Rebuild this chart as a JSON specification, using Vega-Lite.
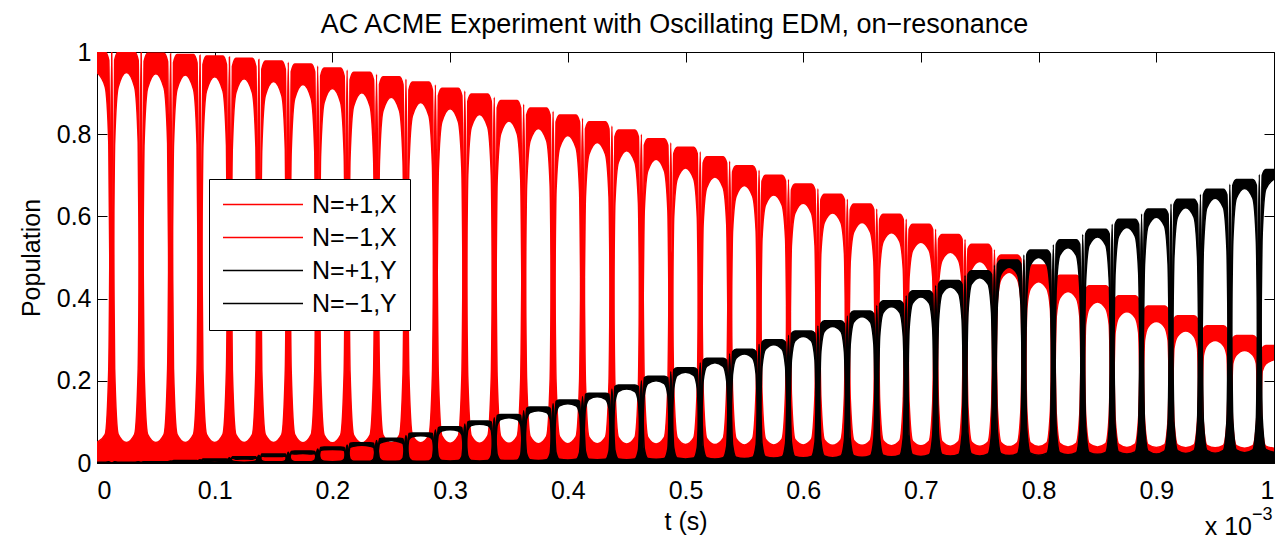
{
"$schema": "https://vega.github.io/schema/vega-lite/v6.json",
"width": 1177, "height": 411,
"autosize": {"type": "none"},
"padding": {"left": 97, "top": 52, "right": 3, "bottom": 78},
"background": "white",
"title": {"text": "AC ACME Experiment with Oscillating EDM, on−resonance", "font": "Liberation Sans", "fontSize": 27, "fontWeight": "normal", "color": "black", "anchor": "middle", "dx": -11, "dy": 39, "offset": 19, "baseline": "alphabetic"},
"data": {"values": [
{"t":0,"a":1,"a0":0.95,"b":0.05,"c":0,"c0":0,"d":0.002},
{"t":0.007,"a":1,"a0":0.915,"b":0.07,"c":0,"c0":0,"d":0.002},
{"t":0.01,"a":0.98,"a0":0.78,"b":0.23,"c":0,"c0":0,"d":0.003},
{"t":0.0125,"a":0,"a0":0,"b":1,"c":0,"c0":0,"d":0},
{"t":0.015,"a":0.98,"a0":0.78,"b":0.23,"c":0,"c0":0,"d":0.003},
{"t":0.018,"a":1,"a0":0.915,"b":0.07,"c":0,"c0":0,"d":0.002},
{"t":0.025,"a":1,"a0":0.95,"b":0.05,"c":0,"c0":0,"d":0.002},
{"t":0.032,"a":1,"a0":0.915,"b":0.07,"c":0,"c0":0,"d":0.002},
{"t":0.035,"a":0.98,"a0":0.78,"b":0.23,"c":0,"c0":0,"d":0.003},
{"t":0.0375,"a":0,"a0":0,"b":0.999,"c":0,"c0":0,"d":0.002},
{"t":0.04,"a":0.977,"a0":0.778,"b":0.229,"c":0.003,"c0":0.002,"d":0.003},
{"t":0.043,"a":0.997,"a0":0.912,"b":0.07,"c":0.003,"c0":0,"d":0.002},
{"t":0.05,"a":0.997,"a0":0.947,"b":0.05,"c":0.003,"c0":0,"d":0.002},
{"t":0.057,"a":0.997,"a0":0.912,"b":0.07,"c":0.003,"c0":0,"d":0.002},
{"t":0.06,"a":0.977,"a0":0.778,"b":0.229,"c":0.003,"c0":0.002,"d":0.003},
{"t":0.0625,"a":0,"a0":0,"b":0.996,"c":0,"c0":0,"d":0.005},
{"t":0.065,"a":0.974,"a0":0.775,"b":0.229,"c":0.006,"c0":0.005,"d":0.004},
{"t":0.068,"a":0.994,"a0":0.909,"b":0.07,"c":0.006,"c0":0.001,"d":0.002},
{"t":0.075,"a":0.994,"a0":0.944,"b":0.05,"c":0.006,"c0":0.001,"d":0.002},
{"t":0.082,"a":0.994,"a0":0.909,"b":0.07,"c":0.006,"c0":0.001,"d":0.002},
{"t":0.085,"a":0.974,"a0":0.775,"b":0.229,"c":0.006,"c0":0.005,"d":0.004},
{"t":0.0875,"a":0,"a0":0,"b":0.992,"c":0,"c0":0,"d":0.008},
{"t":0.09,"a":0.97,"a0":0.772,"b":0.228,"c":0.01,"c0":0.008,"d":0.005},
{"t":0.093,"a":0.99,"a0":0.905,"b":0.07,"c":0.01,"c0":0.004,"d":0.002},
{"t":0.1,"a":0.99,"a0":0.94,"b":0.05,"c":0.01,"c0":0.005,"d":0.002},
{"t":0.107,"a":0.99,"a0":0.905,"b":0.07,"c":0.01,"c0":0.004,"d":0.002},
{"t":0.11,"a":0.97,"a0":0.772,"b":0.228,"c":0.01,"c0":0.008,"d":0.005},
{"t":0.1125,"a":0,"a0":0,"b":0.988,"c":0,"c0":0,"d":0.013},
{"t":0.115,"a":0.965,"a0":0.768,"b":0.227,"c":0.015,"c0":0.012,"d":0.005},
{"t":0.118,"a":0.985,"a0":0.901,"b":0.069,"c":0.015,"c0":0.009,"d":0.003},
{"t":0.125,"a":0.985,"a0":0.935,"b":0.05,"c":0.015,"c0":0.01,"d":0.002},
{"t":0.132,"a":0.985,"a0":0.901,"b":0.069,"c":0.015,"c0":0.009,"d":0.003},
{"t":0.135,"a":0.965,"a0":0.768,"b":0.227,"c":0.015,"c0":0.012,"d":0.005},
{"t":0.1375,"a":0,"a0":0,"b":0.982,"c":0,"c0":0,"d":0.019},
{"t":0.14,"a":0.958,"a0":0.763,"b":0.226,"c":0.022,"c0":0.017,"d":0.006},
{"t":0.143,"a":0.978,"a0":0.894,"b":0.069,"c":0.022,"c0":0.016,"d":0.003},
{"t":0.15,"a":0.978,"a0":0.928,"b":0.05,"c":0.022,"c0":0.016,"d":0.003},
{"t":0.157,"a":0.978,"a0":0.894,"b":0.069,"c":0.022,"c0":0.016,"d":0.003},
{"t":0.16,"a":0.958,"a0":0.763,"b":0.226,"c":0.022,"c0":0.017,"d":0.006},
{"t":0.1625,"a":0,"a0":0,"b":0.975,"c":0,"c0":0,"d":0.026},
{"t":0.165,"a":0.952,"a0":0.757,"b":0.224,"c":0.028,"c0":0.023,"d":0.007},
{"t":0.168,"a":0.971,"a0":0.887,"b":0.069,"c":0.029,"c0":0.022,"d":0.003},
{"t":0.175,"a":0.971,"a0":0.921,"b":0.049,"c":0.029,"c0":0.023,"d":0.003},
{"t":0.182,"a":0.971,"a0":0.887,"b":0.069,"c":0.029,"c0":0.022,"d":0.003},
{"t":0.185,"a":0.952,"a0":0.757,"b":0.224,"c":0.028,"c0":0.023,"d":0.007},
{"t":0.1875,"a":0,"a0":0,"b":0.966,"c":0,"c0":0,"d":0.034},
{"t":0.19,"a":0.942,"a0":0.75,"b":0.222,"c":0.038,"c0":0.03,"d":0.009},
{"t":0.193,"a":0.961,"a0":0.877,"b":0.068,"c":0.039,"c0":0.032,"d":0.004},
{"t":0.2,"a":0.961,"a0":0.911,"b":0.049,"c":0.039,"c0":0.033,"d":0.003},
{"t":0.207,"a":0.961,"a0":0.877,"b":0.068,"c":0.039,"c0":0.032,"d":0.004},
{"t":0.21,"a":0.942,"a0":0.75,"b":0.222,"c":0.038,"c0":0.03,"d":0.009},
{"t":0.2125,"a":0,"a0":0,"b":0.956,"c":0,"c0":0,"d":0.044},
{"t":0.215,"a":0.932,"a0":0.742,"b":0.22,"c":0.048,"c0":0.038,"d":0.01},
{"t":0.218,"a":0.951,"a0":0.868,"b":0.068,"c":0.049,"c0":0.041,"d":0.004},
{"t":0.225,"a":0.951,"a0":0.901,"b":0.049,"c":0.049,"c0":0.043,"d":0.004},
{"t":0.232,"a":0.951,"a0":0.868,"b":0.068,"c":0.049,"c0":0.041,"d":0.004},
{"t":0.235,"a":0.932,"a0":0.742,"b":0.22,"c":0.048,"c0":0.038,"d":0.01},
{"t":0.2375,"a":0,"a0":0,"b":0.946,"c":0,"c0":0,"d":0.055},
{"t":0.24,"a":0.921,"a0":0.733,"b":0.218,"c":0.059,"c0":0.047,"d":0.012},
{"t":0.243,"a":0.94,"a0":0.857,"b":0.068,"c":0.06,"c0":0.051,"d":0.005},
{"t":0.25,"a":0.94,"a0":0.89,"b":0.049,"c":0.06,"c0":0.054,"d":0.004},
{"t":0.257,"a":0.94,"a0":0.857,"b":0.068,"c":0.06,"c0":0.051,"d":0.005},
{"t":0.26,"a":0.921,"a0":0.733,"b":0.218,"c":0.059,"c0":0.047,"d":0.012},
{"t":0.2625,"a":0,"a0":0,"b":0.934,"c":0,"c0":0,"d":0.067},
{"t":0.265,"a":0.908,"a0":0.723,"b":0.215,"c":0.072,"c0":0.057,"d":0.014},
{"t":0.268,"a":0.927,"a0":0.845,"b":0.067,"c":0.073,"c0":0.064,"d":0.005},
{"t":0.275,"a":0.927,"a0":0.877,"b":0.049,"c":0.073,"c0":0.066,"d":0.004},
{"t":0.282,"a":0.927,"a0":0.845,"b":0.067,"c":0.073,"c0":0.064,"d":0.005},
{"t":0.285,"a":0.908,"a0":0.723,"b":0.215,"c":0.072,"c0":0.057,"d":0.014},
{"t":0.2875,"a":0,"a0":0,"b":0.92,"c":0,"c0":0,"d":0.081},
{"t":0.29,"a":0.894,"a0":0.711,"b":0.212,"c":0.086,"c0":0.069,"d":0.016},
{"t":0.293,"a":0.912,"a0":0.83,"b":0.066,"c":0.088,"c0":0.078,"d":0.006},
{"t":0.3,"a":0.912,"a0":0.862,"b":0.048,"c":0.088,"c0":0.081,"d":0.005},
{"t":0.307,"a":0.912,"a0":0.83,"b":0.066,"c":0.088,"c0":0.078,"d":0.006},
{"t":0.31,"a":0.894,"a0":0.711,"b":0.212,"c":0.086,"c0":0.069,"d":0.016},
{"t":0.3125,"a":0,"a0":0,"b":0.905,"c":0,"c0":0,"d":0.095},
{"t":0.315,"a":0.88,"a0":0.7,"b":0.21,"c":0.1,"c0":0.08,"d":0.018},
{"t":0.318,"a":0.898,"a0":0.817,"b":0.066,"c":0.102,"c0":0.091,"d":0.006},
{"t":0.325,"a":0.898,"a0":0.848,"b":0.048,"c":0.102,"c0":0.094,"d":0.005},
{"t":0.332,"a":0.898,"a0":0.817,"b":0.066,"c":0.102,"c0":0.091,"d":0.006},
{"t":0.335,"a":0.88,"a0":0.7,"b":0.21,"c":0.1,"c0":0.08,"d":0.018},
{"t":0.3375,"a":0,"a0":0,"b":0.89,"c":0,"c0":0,"d":0.11},
{"t":0.34,"a":0.864,"a0":0.688,"b":0.206,"c":0.116,"c0":0.092,"d":0.021},
{"t":0.343,"a":0.882,"a0":0.801,"b":0.065,"c":0.118,"c0":0.106,"d":0.007},
{"t":0.35,"a":0.882,"a0":0.832,"b":0.048,"c":0.118,"c0":0.11,"d":0.006},
{"t":0.357,"a":0.882,"a0":0.801,"b":0.065,"c":0.118,"c0":0.106,"d":0.007},
{"t":0.36,"a":0.864,"a0":0.688,"b":0.206,"c":0.116,"c0":0.092,"d":0.021},
{"t":0.3625,"a":0,"a0":0,"b":0.873,"c":0,"c0":0,"d":0.127},
{"t":0.365,"a":0.847,"a0":0.674,"b":0.203,"c":0.133,"c0":0.106,"d":0.023},
{"t":0.368,"a":0.864,"a0":0.784,"b":0.065,"c":0.136,"c0":0.123,"d":0.008},
{"t":0.375,"a":0.864,"a0":0.814,"b":0.047,"c":0.136,"c0":0.127,"d":0.006},
{"t":0.382,"a":0.864,"a0":0.784,"b":0.065,"c":0.136,"c0":0.123,"d":0.008},
{"t":0.385,"a":0.847,"a0":0.674,"b":0.203,"c":0.133,"c0":0.106,"d":0.023},
{"t":0.3875,"a":0,"a0":0,"b":0.856,"c":0,"c0":0,"d":0.145},
{"t":0.39,"a":0.83,"a0":0.661,"b":0.199,"c":0.15,"c0":0.119,"d":0.026},
{"t":0.393,"a":0.847,"a0":0.767,"b":0.064,"c":0.153,"c0":0.139,"d":0.009},
{"t":0.4,"a":0.847,"a0":0.797,"b":0.047,"c":0.153,"c0":0.144,"d":0.007},
{"t":0.407,"a":0.847,"a0":0.767,"b":0.064,"c":0.153,"c0":0.139,"d":0.009},
{"t":0.41,"a":0.83,"a0":0.661,"b":0.199,"c":0.15,"c0":0.119,"d":0.026},
{"t":0.4125,"a":0,"a0":0,"b":0.839,"c":0,"c0":0,"d":0.162},
{"t":0.415,"a":0.813,"a0":0.647,"b":0.196,"c":0.167,"c0":0.133,"d":0.029},
{"t":0.418,"a":0.83,"a0":0.751,"b":0.063,"c":0.17,"c0":0.155,"d":0.009},
{"t":0.425,"a":0.83,"a0":0.78,"b":0.047,"c":0.17,"c0":0.161,"d":0.008},
{"t":0.432,"a":0.83,"a0":0.751,"b":0.063,"c":0.17,"c0":0.155,"d":0.009},
{"t":0.435,"a":0.813,"a0":0.647,"b":0.196,"c":0.167,"c0":0.133,"d":0.029},
{"t":0.4375,"a":0,"a0":0,"b":0.82,"c":0,"c0":0,"d":0.18},
{"t":0.44,"a":0.794,"a0":0.632,"b":0.192,"c":0.186,"c0":0.148,"d":0.032},
{"t":0.443,"a":0.81,"a0":0.732,"b":0.062,"c":0.19,"c0":0.174,"d":0.01},
{"t":0.45,"a":0.81,"a0":0.76,"b":0.046,"c":0.19,"c0":0.18,"d":0.008},
{"t":0.457,"a":0.81,"a0":0.732,"b":0.062,"c":0.19,"c0":0.174,"d":0.01},
{"t":0.46,"a":0.794,"a0":0.632,"b":0.192,"c":0.186,"c0":0.148,"d":0.032},
{"t":0.4625,"a":0,"a0":0,"b":0.8,"c":0,"c0":0,"d":0.2},
{"t":0.465,"a":0.773,"a0":0.615,"b":0.188,"c":0.207,"c0":0.165,"d":0.035},
{"t":0.468,"a":0.789,"a0":0.711,"b":0.062,"c":0.211,"c0":0.193,"d":0.011},
{"t":0.475,"a":0.789,"a0":0.739,"b":0.046,"c":0.211,"c0":0.2,"d":0.009},
{"t":0.482,"a":0.789,"a0":0.711,"b":0.062,"c":0.211,"c0":0.193,"d":0.011},
{"t":0.485,"a":0.773,"a0":0.615,"b":0.188,"c":0.207,"c0":0.165,"d":0.035},
{"t":0.4875,"a":0,"a0":0,"b":0.779,"c":0,"c0":0,"d":0.222},
{"t":0.49,"a":0.753,"a0":0.599,"b":0.184,"c":0.227,"c0":0.181,"d":0.038},
{"t":0.493,"a":0.768,"a0":0.691,"b":0.061,"c":0.232,"c0":0.213,"d":0.012},
{"t":0.5,"a":0.768,"a0":0.718,"b":0.045,"c":0.232,"c0":0.221,"d":0.01},
{"t":0.507,"a":0.768,"a0":0.691,"b":0.061,"c":0.232,"c0":0.213,"d":0.012},
{"t":0.51,"a":0.753,"a0":0.599,"b":0.184,"c":0.227,"c0":0.181,"d":0.038},
{"t":0.5125,"a":0,"a0":0,"b":0.757,"c":0,"c0":0,"d":0.244},
{"t":0.515,"a":0.73,"a0":0.581,"b":0.179,"c":0.25,"c0":0.199,"d":0.041},
{"t":0.518,"a":0.745,"a0":0.67,"b":0.06,"c":0.255,"c0":0.235,"d":0.013},
{"t":0.525,"a":0.745,"a0":0.696,"b":0.045,"c":0.255,"c0":0.244,"d":0.01},
{"t":0.532,"a":0.745,"a0":0.67,"b":0.06,"c":0.255,"c0":0.235,"d":0.013},
{"t":0.535,"a":0.73,"a0":0.581,"b":0.179,"c":0.25,"c0":0.199,"d":0.041},
{"t":0.5375,"a":0,"a0":0,"b":0.734,"c":0,"c0":0,"d":0.266},
{"t":0.54,"a":0.709,"a0":0.564,"b":0.175,"c":0.271,"c0":0.216,"d":0.045},
{"t":0.543,"a":0.723,"a0":0.649,"b":0.059,"c":0.277,"c0":0.255,"d":0.014},
{"t":0.55,"a":0.723,"a0":0.675,"b":0.044,"c":0.277,"c0":0.265,"d":0.011},
{"t":0.557,"a":0.723,"a0":0.649,"b":0.059,"c":0.277,"c0":0.255,"d":0.014},
{"t":0.56,"a":0.709,"a0":0.564,"b":0.175,"c":0.271,"c0":0.216,"d":0.045},
{"t":0.5625,"a":0,"a0":0,"b":0.712,"c":0,"c0":0,"d":0.289},
{"t":0.565,"a":0.686,"a0":0.546,"b":0.17,"c":0.294,"c0":0.234,"d":0.048},
{"t":0.568,"a":0.7,"a0":0.628,"b":0.058,"c":0.3,"c0":0.277,"d":0.015},
{"t":0.575,"a":0.7,"a0":0.652,"b":0.044,"c":0.3,"c0":0.288,"d":0.012},
{"t":0.582,"a":0.7,"a0":0.628,"b":0.058,"c":0.3,"c0":0.277,"d":0.015},
{"t":0.585,"a":0.686,"a0":0.546,"b":0.17,"c":0.294,"c0":0.234,"d":0.048},
{"t":0.5875,"a":0,"a0":0,"b":0.69,"c":0,"c0":0,"d":0.311},
{"t":0.59,"a":0.665,"a0":0.53,"b":0.166,"c":0.315,"c0":0.25,"d":0.051},
{"t":0.593,"a":0.679,"a0":0.608,"b":0.057,"c":0.321,"c0":0.297,"d":0.016},
{"t":0.6,"a":0.679,"a0":0.632,"b":0.044,"c":0.321,"c0":0.308,"d":0.013},
{"t":0.607,"a":0.679,"a0":0.608,"b":0.057,"c":0.321,"c0":0.297,"d":0.016},
{"t":0.61,"a":0.665,"a0":0.53,"b":0.166,"c":0.315,"c0":0.25,"d":0.051},
{"t":0.6125,"a":0,"a0":0,"b":0.667,"c":0,"c0":0,"d":0.334},
{"t":0.615,"a":0.641,"a0":0.51,"b":0.161,"c":0.339,"c0":0.27,"d":0.055},
{"t":0.618,"a":0.654,"a0":0.585,"b":0.056,"c":0.346,"c0":0.32,"d":0.017},
{"t":0.625,"a":0.654,"a0":0.608,"b":0.043,"c":0.346,"c0":0.332,"d":0.013},
{"t":0.632,"a":0.654,"a0":0.585,"b":0.056,"c":0.346,"c0":0.32,"d":0.017},
{"t":0.635,"a":0.641,"a0":0.51,"b":0.161,"c":0.339,"c0":0.27,"d":0.055},
{"t":0.6375,"a":0,"a0":0,"b":0.642,"c":0,"c0":0,"d":0.358},
{"t":0.64,"a":0.617,"a0":0.491,"b":0.156,"c":0.363,"c0":0.289,"d":0.059},
{"t":0.643,"a":0.63,"a0":0.562,"b":0.055,"c":0.37,"c0":0.343,"d":0.018},
{"t":0.65,"a":0.63,"a0":0.585,"b":0.043,"c":0.37,"c0":0.356,"d":0.014},
{"t":0.657,"a":0.63,"a0":0.562,"b":0.055,"c":0.37,"c0":0.343,"d":0.018},
{"t":0.66,"a":0.617,"a0":0.491,"b":0.156,"c":0.363,"c0":0.289,"d":0.059},
{"t":0.6625,"a":0,"a0":0,"b":0.618,"c":0,"c0":0,"d":0.383},
{"t":0.665,"a":0.593,"a0":0.472,"b":0.151,"c":0.387,"c0":0.308,"d":0.062},
{"t":0.668,"a":0.605,"a0":0.539,"b":0.054,"c":0.395,"c0":0.366,"d":0.019},
{"t":0.675,"a":0.605,"a0":0.56,"b":0.042,"c":0.395,"c0":0.38,"d":0.015},
{"t":0.682,"a":0.605,"a0":0.539,"b":0.054,"c":0.395,"c0":0.366,"d":0.019},
{"t":0.685,"a":0.593,"a0":0.472,"b":0.151,"c":0.387,"c0":0.308,"d":0.062},
{"t":0.6875,"a":0,"a0":0,"b":0.593,"c":0,"c0":0,"d":0.407},
{"t":0.69,"a":0.569,"a0":0.453,"b":0.146,"c":0.411,"c0":0.327,"d":0.066},
{"t":0.693,"a":0.581,"a0":0.517,"b":0.053,"c":0.419,"c0":0.389,"d":0.02},
{"t":0.7,"a":0.581,"a0":0.537,"b":0.042,"c":0.419,"c0":0.404,"d":0.016},
{"t":0.707,"a":0.581,"a0":0.517,"b":0.053,"c":0.419,"c0":0.389,"d":0.02},
{"t":0.71,"a":0.569,"a0":0.453,"b":0.146,"c":0.411,"c0":0.327,"d":0.066},
{"t":0.7125,"a":0,"a0":0,"b":0.569,"c":0,"c0":0,"d":0.432},
{"t":0.715,"a":0.545,"a0":0.434,"b":0.141,"c":0.435,"c0":0.346,"d":0.07},
{"t":0.718,"a":0.556,"a0":0.493,"b":0.052,"c":0.444,"c0":0.412,"d":0.021},
{"t":0.725,"a":0.556,"a0":0.513,"b":0.041,"c":0.444,"c0":0.428,"d":0.017},
{"t":0.732,"a":0.556,"a0":0.493,"b":0.052,"c":0.444,"c0":0.412,"d":0.021},
{"t":0.735,"a":0.545,"a0":0.434,"b":0.141,"c":0.435,"c0":0.346,"d":0.07},
{"t":0.7375,"a":0,"a0":0,"b":0.544,"c":0,"c0":0,"d":0.456},
{"t":0.74,"a":0.521,"a0":0.415,"b":0.136,"c":0.459,"c0":0.365,"d":0.073},
{"t":0.743,"a":0.532,"a0":0.471,"b":0.051,"c":0.468,"c0":0.435,"d":0.022},
{"t":0.75,"a":0.532,"a0":0.49,"b":0.041,"c":0.468,"c0":0.451,"d":0.017},
{"t":0.757,"a":0.532,"a0":0.471,"b":0.051,"c":0.468,"c0":0.435,"d":0.022},
{"t":0.76,"a":0.521,"a0":0.415,"b":0.136,"c":0.459,"c0":0.365,"d":0.073},
{"t":0.7625,"a":0,"a0":0,"b":0.519,"c":0,"c0":0,"d":0.481},
{"t":0.765,"a":0.496,"a0":0.395,"b":0.131,"c":0.484,"c0":0.385,"d":0.077},
{"t":0.768,"a":0.506,"a0":0.447,"b":0.05,"c":0.494,"c0":0.459,"d":0.023},
{"t":0.775,"a":0.506,"a0":0.464,"b":0.04,"c":0.494,"c0":0.476,"d":0.018},
{"t":0.782,"a":0.506,"a0":0.447,"b":0.05,"c":0.494,"c0":0.459,"d":0.023},
{"t":0.785,"a":0.496,"a0":0.395,"b":0.131,"c":0.484,"c0":0.385,"d":0.077},
{"t":0.7875,"a":0,"a0":0,"b":0.494,"c":0,"c0":0,"d":0.506},
{"t":0.79,"a":0.472,"a0":0.376,"b":0.126,"c":0.508,"c0":0.404,"d":0.081},
{"t":0.793,"a":0.482,"a0":0.424,"b":0.049,"c":0.518,"c0":0.482,"d":0.024},
{"t":0.8,"a":0.482,"a0":0.441,"b":0.04,"c":0.518,"c0":0.5,"d":0.019},
{"t":0.807,"a":0.482,"a0":0.424,"b":0.049,"c":0.518,"c0":0.482,"d":0.024},
{"t":0.81,"a":0.472,"a0":0.376,"b":0.126,"c":0.508,"c0":0.404,"d":0.081},
{"t":0.8125,"a":0,"a0":0,"b":0.47,"c":0,"c0":0,"d":0.531},
{"t":0.815,"a":0.448,"a0":0.356,"b":0.121,"c":0.532,"c0":0.424,"d":0.084},
{"t":0.818,"a":0.457,"a0":0.401,"b":0.048,"c":0.543,"c0":0.505,"d":0.025},
{"t":0.825,"a":0.457,"a0":0.417,"b":0.039,"c":0.543,"c0":0.524,"d":0.02},
{"t":0.832,"a":0.457,"a0":0.401,"b":0.048,"c":0.543,"c0":0.505,"d":0.025},
{"t":0.835,"a":0.448,"a0":0.356,"b":0.121,"c":0.532,"c0":0.424,"d":0.084},
{"t":0.8375,"a":0,"a0":0,"b":0.444,"c":0,"c0":0,"d":0.556},
{"t":0.84,"a":0.422,"a0":0.336,"b":0.116,"c":0.558,"c0":0.444,"d":0.088},
{"t":0.843,"a":0.431,"a0":0.376,"b":0.047,"c":0.569,"c0":0.53,"d":0.026},
{"t":0.85,"a":0.431,"a0":0.392,"b":0.039,"c":0.569,"c0":0.55,"d":0.021},
{"t":0.857,"a":0.431,"a0":0.376,"b":0.047,"c":0.569,"c0":0.53,"d":0.026},
{"t":0.86,"a":0.422,"a0":0.336,"b":0.116,"c":0.558,"c0":0.444,"d":0.088},
{"t":0.8625,"a":0,"a0":0,"b":0.419,"c":0,"c0":0,"d":0.581},
{"t":0.865,"a":0.399,"a0":0.317,"b":0.111,"c":0.581,"c0":0.463,"d":0.092},
{"t":0.868,"a":0.407,"a0":0.354,"b":0.046,"c":0.593,"c0":0.552,"d":0.027},
{"t":0.875,"a":0.407,"a0":0.368,"b":0.038,"c":0.593,"c0":0.573,"d":0.022},
{"t":0.882,"a":0.407,"a0":0.354,"b":0.046,"c":0.593,"c0":0.552,"d":0.027},
{"t":0.885,"a":0.399,"a0":0.317,"b":0.111,"c":0.581,"c0":0.463,"d":0.092},
{"t":0.8875,"a":0,"a0":0,"b":0.395,"c":0,"c0":0,"d":0.606},
{"t":0.89,"a":0.374,"a0":0.298,"b":0.106,"c":0.606,"c0":0.482,"d":0.096},
{"t":0.893,"a":0.382,"a0":0.331,"b":0.045,"c":0.618,"c0":0.576,"d":0.029},
{"t":0.9,"a":0.382,"a0":0.344,"b":0.038,"c":0.618,"c0":0.598,"d":0.022},
{"t":0.907,"a":0.382,"a0":0.331,"b":0.045,"c":0.618,"c0":0.576,"d":0.029},
{"t":0.91,"a":0.374,"a0":0.298,"b":0.106,"c":0.606,"c0":0.482,"d":0.096},
{"t":0.9125,"a":0,"a0":0,"b":0.37,"c":0,"c0":0,"d":0.63},
{"t":0.915,"a":0.351,"a0":0.279,"b":0.102,"c":0.629,"c0":0.501,"d":0.099},
{"t":0.918,"a":0.358,"a0":0.308,"b":0.044,"c":0.642,"c0":0.598,"d":0.03},
{"t":0.925,"a":0.358,"a0":0.321,"b":0.037,"c":0.642,"c0":0.621,"d":0.023},
{"t":0.932,"a":0.358,"a0":0.308,"b":0.044,"c":0.642,"c0":0.598,"d":0.03},
{"t":0.935,"a":0.351,"a0":0.279,"b":0.102,"c":0.629,"c0":0.501,"d":0.099},
{"t":0.9375,"a":0,"a0":0,"b":0.346,"c":0,"c0":0,"d":0.654},
{"t":0.94,"a":0.327,"a0":0.261,"b":0.097,"c":0.653,"c0":0.519,"d":0.103},
{"t":0.943,"a":0.334,"a0":0.286,"b":0.043,"c":0.666,"c0":0.621,"d":0.031},
{"t":0.95,"a":0.334,"a0":0.298,"b":0.037,"c":0.666,"c0":0.644,"d":0.024},
{"t":0.957,"a":0.334,"a0":0.286,"b":0.043,"c":0.666,"c0":0.621,"d":0.031},
{"t":0.96,"a":0.327,"a0":0.261,"b":0.097,"c":0.653,"c0":0.519,"d":0.103},
{"t":0.9625,"a":0,"a0":0,"b":0.322,"c":0,"c0":0,"d":0.678},
{"t":0.965,"a":0.304,"a0":0.242,"b":0.092,"c":0.676,"c0":0.538,"d":0.107},
{"t":0.968,"a":0.31,"a0":0.263,"b":0.042,"c":0.69,"c0":0.644,"d":0.032},
{"t":0.975,"a":0.31,"a0":0.274,"b":0.036,"c":0.69,"c0":0.668,"d":0.025},
{"t":0.982,"a":0.31,"a0":0.263,"b":0.042,"c":0.69,"c0":0.644,"d":0.032},
{"t":0.985,"a":0.304,"a0":0.242,"b":0.092,"c":0.676,"c0":0.538,"d":0.107},
{"t":0.9875,"a":0,"a0":0,"b":0.298,"c":0,"c0":0,"d":0.702},
{"t":0.99,"a":0.28,"a0":0.223,"b":0.087,"c":0.7,"c0":0.557,"d":0.11},
{"t":0.993,"a":0.286,"a0":0.241,"b":0.041,"c":0.714,"c0":0.666,"d":0.033},
{"t":1,"a":0.286,"a0":0.251,"b":0.036,"c":0.714,"c0":0.691,"d":0.026}
]},
"layer": [
{"mark": {"type": "area", "interpolate": "monotone", "strokeWidth": 1.5, "clip": true},
 "encoding": {
  "x": {"field": "t", "type": "quantitative", "scale": {"domain": [0, 1], "nice": false, "zero": false},
        "axis": {"orient": "bottom", "values": [0,0.1,0.2,0.3,0.4,0.5,0.6,0.7,0.8,0.9,1], "format": "~g", "title": "t (s)", "tickSize": -10, "labelPadding": 25, "titlePadding": 6}},
  "y": {"field": "a", "type": "quantitative", "scale": {"domain": [0, 1], "nice": false},
        "axis": {"orient": "left", "values": [0,0.2,0.4,0.6,0.8,1], "format": "~g", "title": "Population", "tickSize": -10, "labelPadding": 16, "titlePadding": 12}},
  "y2": {"field": "a0"},
  "fill": {"datum": "N=+1,X", "type": "nominal", "scale": {"domain": ["N=+1,X","N=−1,X","N=+1,Y","N=−1,Y"], "range": ["#ff0000","#ff0000","#000000","#000000"]},
           "legend": {"encode": {"symbols": {"update": {"shape": [{"test": "datum.index % 2 == 1", "value": "M-1,0H-0.62M-0.21,0H0.19M0.6,0H1"}, {"value": "stroke"}]}}}}},
  "stroke": {"datum": "N=+1,X", "type": "nominal", "scale": {"domain": ["N=+1,X","N=−1,X","N=+1,Y","N=−1,Y"], "range": ["#ff0000","#ff0000","#000000","#000000"]},
             "legend": {"encode": {"symbols": {"update": {"shape": [{"test": "datum.index % 2 == 1", "value": "M-1,0H-0.62M-0.21,0H0.19M0.6,0H1"}, {"value": "stroke"}]}}}}},
  "strokeDash": {"datum": "N=+1,X", "type": "nominal", "scale": {"domain": ["N=+1,X","N=−1,X","N=+1,Y","N=−1,Y"], "range": [[1,0],[14,10],[1,0],[14,10]]},
             "legend": {"encode": {"symbols": {"update": {"shape": [{"test": "datum.index % 2 == 1", "value": "M-1,0H-0.62M-0.21,0H0.19M0.6,0H1"}, {"value": "stroke"}]}}}}}
 }},
{"mark": {"type": "area", "interpolate": "monotone", "strokeWidth": 1.5, "clip": true},
 "encoding": {
  "x": {"field": "t", "type": "quantitative",
        "axis": {"orient": "top", "values": [0,0.1,0.2,0.3,0.4,0.5,0.6,0.7,0.8,0.9,1], "labels": false, "title": null, "tickSize": -10, "domain": false}},
  "y": {"field": "b", "type": "quantitative",
        "axis": {"orient": "right", "values": [0,0.2,0.4,0.6,0.8,1], "labels": false, "title": null, "tickSize": -10, "domain": false}},
  "y2": {"datum": 0},
  "fill": {"datum": "N=−1,X", "type": "nominal"},
  "stroke": {"datum": "N=−1,X", "type": "nominal"},
  "strokeDash": {"datum": "N=−1,X", "type": "nominal"}
 }},
{"mark": {"type": "area", "interpolate": "monotone", "strokeWidth": 1.5, "clip": true},
 "encoding": {
  "x": {"field": "t", "type": "quantitative", "axis": null},
  "y": {"field": "c", "type": "quantitative", "axis": null},
  "y2": {"field": "c0"},
  "fill": {"datum": "N=+1,Y", "type": "nominal"},
  "stroke": {"datum": "N=+1,Y", "type": "nominal"},
  "strokeDash": {"datum": "N=+1,Y", "type": "nominal"}
 }},
{"mark": {"type": "area", "interpolate": "monotone", "strokeWidth": 1.5, "clip": true},
 "encoding": {
  "x": {"field": "t", "type": "quantitative", "axis": null},
  "y": {"field": "d", "type": "quantitative", "axis": null},
  "y2": {"datum": 0},
  "fill": {"datum": "N=−1,Y", "type": "nominal"},
  "stroke": {"datum": "N=−1,Y", "type": "nominal"},
  "strokeDash": {"datum": "N=−1,Y", "type": "nominal"}
 }},
{"data": {"values": [{"lab": "x 10"}]},
 "mark": {"type": "text", "align": "right", "baseline": "alphabetic", "dx": -22, "dy": 72, "fontSize": 25, "font": "Liberation Sans", "fill": "black"},
 "encoding": {
  "x": {"datum": 1, "type": "quantitative", "axis": null},
  "y": {"datum": 0, "type": "quantitative", "axis": null},
  "text": {"field": "lab"}
 }},
{"data": {"values": [{"lab": "−3"}]},
 "mark": {"type": "text", "align": "left", "baseline": "alphabetic", "dx": -22, "dy": 57, "fontSize": 18, "font": "Liberation Sans", "fill": "black"},
 "encoding": {
  "x": {"datum": 1, "type": "quantitative", "axis": null},
  "y": {"datum": 0, "type": "quantitative", "axis": null},
  "text": {"field": "lab"}
 }}
],
"resolve": {"axis": {"x": "independent", "y": "independent"}},
"config": {
 "view": {"stroke": "black", "strokeWidth": 1},
 "axis": {"labelFont": "Liberation Sans", "labelFontSize": 25, "labelColor": "black", "titleFont": "Liberation Sans", "titleFontSize": 25, "titleFontWeight": "normal", "titleColor": "black", "tickColor": "black", "domainColor": "black", "grid": false, "tickWidth": 1},
 "legend": {"orient": "none", "legendX": 112, "legendY": 127, "padding": 13, "strokeColor": "black", "fillColor": "white", "labelFont": "Liberation Sans", "labelFontSize": 25, "labelColor": "black", "symbolType": "stroke", "symbolSize": 6400, "symbolStrokeWidth": 1.5, "clipHeight": 25, "rowPadding": 7, "labelOffset": 8}
}
}
